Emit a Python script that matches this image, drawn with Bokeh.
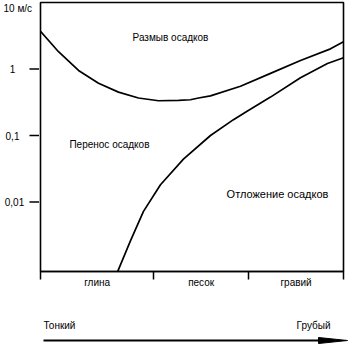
from bokeh.plotting import figure
from bokeh.models import Range1d, FixedTicker, CustomJSTickFormatter
from bokeh.layouts import column, row
from bokeh.embed import file_html
from bokeh.resources import INLINE
from bokeh.core.properties import value
import numpy as np

# ---- data (grain size in mm, flow velocity in m/s) ----
erosion_size = [0.001, 0.00193, 0.00401, 0.00832, 0.01726, 0.0358, 0.0745, 0.1545,
                0.239, 0.3206, 0.497, 1.486, 4.45, 13.3, 39.8, 64]
erosion_vel = [3.68, 1.82, 0.95, 0.61, 0.449, 0.366, 0.333, 0.338,
               0.345, 0.366, 0.395, 0.55, 0.86, 1.34, 2.01, 2.56]

deposit_size = [0.0166, 0.0267, 0.0430, 0.080, 0.185, 0.497, 1.15, 1.92, 4.45, 13.3, 35.6, 64]
deposit_vel = [0.00088, 0.0026, 0.00723, 0.0182, 0.0441, 0.1, 0.173, 0.234, 0.378, 0.74, 1.21, 1.48]

class_edges = [0.001, 0.0625, 2, 64]
class_names = ["глина", "песок", "гравий"]

y_ticks = [1, 0.1, 0.01]
y_tick_labels = ["1", "0,1", "0,01"]
y_top = 10
y_unit_label = "10 м/с"

region_names = ["Размыв осадков", "Перенос осадков", "Отложение осадков"]
region_size = [0.1153, 0.0124, 5.74]
region_vel = [2.98, 0.0732, 0.01297]

scale_left = "Тонкий"
scale_right = "Грубый"

FONT = "Liberation Sans"
FS = "10px"

class_centers = [float(np.sqrt(a * b)) for a, b in zip(class_edges[:-1], class_edges[1:])]
y_range = Range1d(10 ** -3.045, y_top)

H = 298
TOP = 2
BOTTOM = 27
LW = 39  # width of the y-label strip

# ---- main chart ----
p = figure(width=312, height=H, x_axis_type="log", y_axis_type="log",
           x_range=Range1d(class_edges[0], class_edges[-1]), y_range=y_range,
           y_axis_location=None,
           output_backend="svg", toolbar_location=None,
           min_border_left=1, min_border_right=8, min_border_top=TOP, min_border_bottom=BOTTOM)
p.xgrid.visible = False
p.ygrid.visible = False
p.outline_line_color = "black"
p.outline_line_width = 1.6

p.xaxis.ticker = FixedTicker(ticks=class_centers, minor_ticks=class_edges)
p.xaxis.formatter = CustomJSTickFormatter(args=dict(names=class_names),
                                          code="return names[index] || '';")
p.xaxis.major_tick_out = 0
p.xaxis.major_tick_in = 0
p.xaxis.minor_tick_out = 8
p.xaxis.minor_tick_in = 0
p.xaxis.minor_tick_line_color = "black"
p.xaxis.minor_tick_line_width = 1.5
p.xaxis.axis_line_color = "black"
p.xaxis.axis_line_width = 1.6
p.xaxis.major_label_standoff = -3
p.xaxis.major_label_text_font = FONT
p.xaxis.major_label_text_font_size = FS
p.xaxis.major_label_text_color = "black"

p.line(erosion_size, erosion_vel, line_color="black", line_width=1.7)
p.line(deposit_size, deposit_vel, line_color="black", line_width=1.7)

p.text(x=region_size, y=region_vel, text=region_names, text_align="center",
       text_baseline="middle", text_font=value(FONT),
       text_font_size=["10px", "10px", "11px"], text_color="black")

# ---- y axis strip: tick marks and labels, sharing the y scale ----
pl = figure(width=LW, height=H, x_range=Range1d(0, LW), y_range=y_range, y_axis_type="log",
            x_axis_location=None, y_axis_location=None, output_backend="svg",
            toolbar_location=None, min_border_left=0, min_border_right=0,
            min_border_top=TOP, min_border_bottom=BOTTOM)
pl.outline_line_color = None
pl.xgrid.visible = False
pl.ygrid.visible = False
pl.segment(x0=[LW - 10] * len(y_ticks), y0=y_ticks, x1=[LW + 1] * len(y_ticks), y1=y_ticks,
           line_color="black", line_width=1.5)
pl.text(x=[12, 12, 14], y=y_ticks, text=y_tick_labels, text_align="center",
        text_baseline="middle", text_font=value(FONT), text_font_size=FS, text_color="black")
pl.text(x=[3], y=[y_top], text=[y_unit_label], text_align="left", text_baseline="top",
        text_font=value(FONT), text_font_size=FS, text_color="black")

# ---- bottom strip: fine -> coarse arrow ----
p2 = figure(width=351, height=50, x_range=Range1d(0, 351), y_range=Range1d(0, 50),
            x_axis_location=None, y_axis_location=None,
            output_backend="svg", toolbar_location=None, min_border=0)
p2.xgrid.visible = False
p2.ygrid.visible = False
p2.outline_line_color = None
p2.text(x=[43], y=[23], text=[scale_left], text_align="left", text_baseline="middle",
        text_font=value(FONT), text_font_size=FS, text_color="black")
p2.text(x=[330], y=[23], text=[scale_right], text_align="right", text_baseline="middle",
        text_font=value(FONT), text_font_size=FS, text_color="black")
p2.line([43, 322], [8, 8], line_color="black", line_width=2)
p2.patch([318, 347, 318], [11, 8, 5], fill_color="black", line_color="black", line_width=1)

layout = column(row(pl, p, spacing=0), p2, spacing=0)
open("out.html", "w").write(file_html(layout, INLINE))
